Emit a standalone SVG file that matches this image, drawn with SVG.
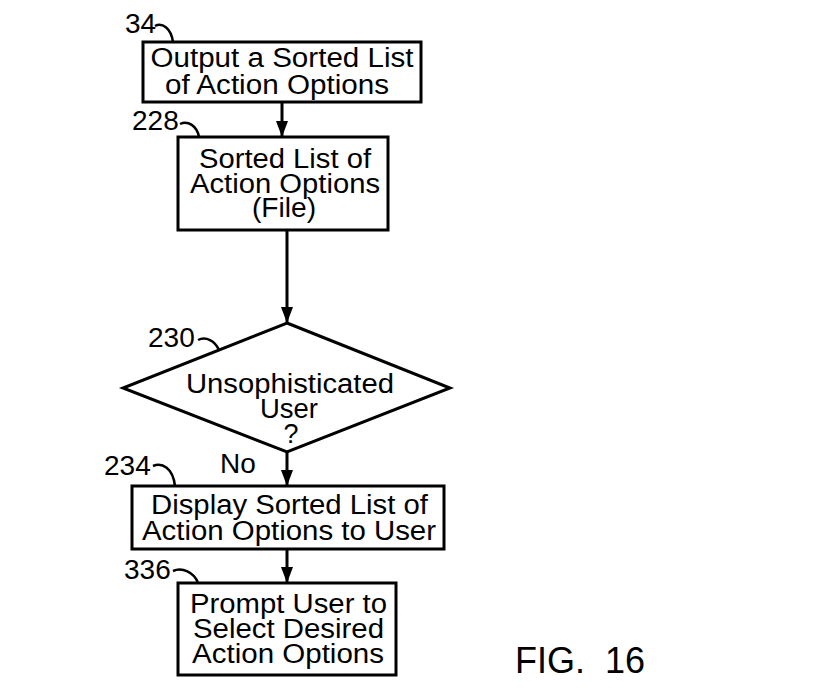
<svg xmlns="http://www.w3.org/2000/svg" width="833" height="696" viewBox="0 0 833 696">
<style>
.box{fill:#fff;stroke:#000;stroke-width:3}
.t{font-family:"Liberation Sans",Arial,Helvetica,sans-serif;font-size:27px;fill:#000;text-anchor:middle}
.n{font-family:"Liberation Sans",Arial,Helvetica,sans-serif;font-size:28px;fill:#000}
.lead{fill:none;stroke:#000;stroke-width:2.5}
.con{fill:none;stroke:#000;stroke-width:3}
</style>
<defs>
<marker id="ah" markerUnits="userSpaceOnUse" markerWidth="16" markerHeight="12" refX="16" refY="6" orient="auto">
<path d="M0,0 L16,6 L0,12 z" fill="#000"/>
</marker>
</defs>
<rect width="833" height="696" fill="#fff"/>
<g id="connectors">
<line class="con" x1="282" y1="102" x2="282" y2="137" marker-end="url(#ah)"/>
<line class="con" x1="287" y1="230" x2="287" y2="323" marker-end="url(#ah)"/>
<line class="con" x1="287" y1="452" x2="287" y2="486" marker-end="url(#ah)"/>
<line class="con" x1="287" y1="549" x2="287" y2="583" marker-end="url(#ah)"/>
<text class="n" x="220" y="473">No</text>
</g>
<g id="n34">
<rect class="box" x="143" y="42" width="278" height="60"/>
<text class="t" x="282" y="67" textLength="263" lengthAdjust="spacingAndGlyphs">Output a Sorted List</text>
<text class="t" x="277" y="94" textLength="224" lengthAdjust="spacingAndGlyphs">of Action Options</text>
<text class="n" x="125" y="33">34</text>
<path class="lead" d="M155,26 C162,22 171,28 173,42"/>
</g>
<g id="n228">
<rect class="box" x="178" y="137" width="210" height="93"/>
<text class="t" x="285" y="168" textLength="172" lengthAdjust="spacingAndGlyphs">Sorted List of</text>
<text class="t" x="285" y="193" textLength="190" lengthAdjust="spacingAndGlyphs">Action Options</text>
<text class="t" x="284" y="217" textLength="64" lengthAdjust="spacingAndGlyphs">(File)</text>
<text class="n" x="132" y="130">228</text>
<path class="lead" d="M180,124 C188,120 197,126 199,137"/>
</g>
<g id="n230">
<polygon class="box" points="287,323 450,388 287,452 123,388"/>
<text class="t" x="290" y="393" textLength="208" lengthAdjust="spacingAndGlyphs">Unsophisticated</text>
<text class="t" x="289" y="418" textLength="58" lengthAdjust="spacingAndGlyphs">User</text>
<text class="t" x="291" y="443">?</text>
<text class="n" x="148" y="347">230</text>
<path class="lead" d="M198,340 C206,336 215,341 219,350"/>
</g>
<g id="n234">
<rect class="box" x="132" y="486" width="312" height="63"/>
<text class="t" x="289.5" y="514" textLength="277" lengthAdjust="spacingAndGlyphs">Display Sorted List of</text>
<text class="t" x="289" y="540" textLength="294" lengthAdjust="spacingAndGlyphs">Action Options to User</text>
<text class="n" x="104" y="475">234</text>
<path class="lead" d="M153,466 C162,462 173,468 175,486"/>
</g>
<g id="n336">
<rect class="box" x="178" y="583" width="218" height="92"/>
<text class="t" x="288.5" y="613" textLength="197" lengthAdjust="spacingAndGlyphs">Prompt User to</text>
<text class="t" x="288.5" y="638" textLength="191" lengthAdjust="spacingAndGlyphs">Select Desired</text>
<text class="t" x="288" y="663" textLength="192" lengthAdjust="spacingAndGlyphs">Action Options</text>
<text class="n" x="124" y="579">336</text>
<path class="lead" d="M173,571 C182,567 194,572 198,583"/>
</g>
<text class="n" x="515" y="673" style="font-size:36px" xml:space="preserve">FIG.  16</text>
</svg>
